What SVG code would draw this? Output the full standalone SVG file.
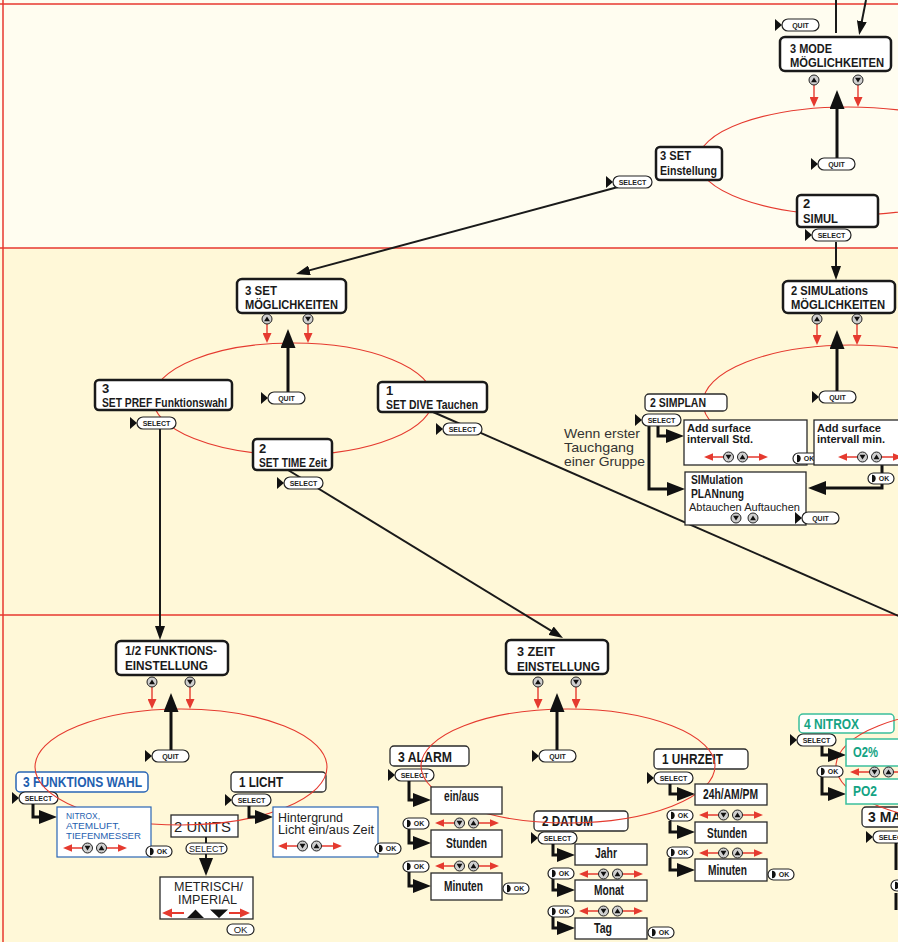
<svg xmlns="http://www.w3.org/2000/svg" width="898" height="942" viewBox="0 0 898 942">
<style>
.hb{font-family:"Liberation Sans Narrow","Liberation Sans",Arial,sans-serif;font-weight:700;font-size:13px;fill:#1a1a1a}
.lb{font-family:"Liberation Sans Narrow","Liberation Sans",Arial,sans-serif;font-weight:700;font-size:14px;fill:#1a1a1a}
.sb{font-family:"Liberation Sans",Arial,sans-serif;font-weight:700;font-size:10.5px;fill:#1a1a1a}
.rg{font-family:"Liberation Sans",Arial,sans-serif;font-size:12.5px;fill:#222}
.bt{font-family:"Liberation Sans",Arial,sans-serif;font-weight:700;font-size:7px;fill:#222;text-anchor:middle}
.bx3{fill:#fff;stroke:#1a1a1a;stroke-width:2.5}
.bx{fill:#fff;stroke:#2a2a2a;stroke-width:1.3}
.pl{fill:#fff;stroke:#222;stroke-width:1.2}
.cb{fill:#cfcfcf;stroke:#222;stroke-width:1}
.ell{fill:none;stroke:#e53a2f;stroke-width:1.1}
.rd{fill:none;stroke:#e53a2f;stroke-width:1.4}
.ln{fill:none;stroke:#1a1a1a;stroke-width:2}
.tk{fill:none;stroke:#111;stroke-width:3}
.blue{fill:#1f5fb0}
.teal{fill:#14a384}
</style>
<defs>
<marker id="mBig" markerUnits="userSpaceOnUse" markerWidth="18" markerHeight="14" refX="10" refY="7" orient="auto"><path d="M0,0L18,7L0,14Z" fill="#111"/></marker>
<marker id="mUp" markerUnits="userSpaceOnUse" markerWidth="19" markerHeight="15" refX="11" refY="7.5" orient="auto"><path d="M0,0L19,7.5L0,15Z" fill="#111"/></marker>
<marker id="mAh" markerUnits="userSpaceOnUse" markerWidth="14" markerHeight="10" refX="8" refY="5" orient="auto"><path d="M0,0L14,5L0,10Z" fill="#111"/></marker>
<marker id="mRed" markerUnits="userSpaceOnUse" markerWidth="10" markerHeight="9" refX="6" refY="4.5" orient="auto"><path d="M0,0L10,4.5L0,9Z" fill="#e53a2f"/></marker>
<g id="sel"><path d="M-7,0L0,6L-7,12Z" fill="#111"/><rect class="pl" width="39" height="12" rx="6"/><text class="bt" x="19.5" y="8.6">SELECT</text></g>
<g id="quit"><path d="M-7,0L0,6L-7,12Z" fill="#111"/><rect class="pl" width="37" height="12" rx="6"/><text class="bt" x="18.5" y="8.6">QUIT</text></g>
<g id="ok"><rect class="pl" width="26" height="11" rx="5.5"/><path d="M4,1.8V9.2A3.7,3.7 0 0 0 4,1.8Z" fill="#111"/><text class="bt" x="16" y="8.3">OK</text></g>
<g id="bup"><circle class="cb" r="5"/><path d="M-3,2.2L0,-2.6L3,2.2Z" fill="#111"/></g>
<g id="bdn"><circle class="cb" r="5"/><path d="M-3,-2.2L3,-2.2L0,2.6Z" fill="#111"/></g>
<g id="rr"><path class="rd" d="M8,0H19.5M43.5,0H56"/><path d="M0,0L9,-3.8V3.8Z M64,0L55,-3.8V3.8Z" fill="#e53a2f"/><use href="#bdn" x="24.5"/><use href="#bup" x="38.5"/></g>
</defs>

<g id="background">
<rect width="898" height="942" fill="#fff8d8"/>
<rect width="898" height="248" fill="#fffdf0"/>
<path d="M0,4H898M0,248H898M0,615H898M3,0V942" stroke="#e8392f" stroke-width="1.5" fill="none"/>
</g>

<g id="titles-band3">
<g id="n-funkwahl"><rect x="16" y="772" width="132" height="20" rx="4" fill="#fff" stroke="#2a66b5" stroke-width="1.5"/><text class="lb blue" x="23" y="787" textLength="119" lengthAdjust="spacingAndGlyphs">3 FUNKTIONS WAHL</text><use href="#sel" x="19" y="792"/></g>
<g id="n-licht"><rect class="bx" x="231" y="772" width="95" height="20" rx="4"/><text class="lb" x="239" y="787" textLength="44" lengthAdjust="spacingAndGlyphs">1 LICHT</text><use href="#sel" x="232" y="794"/></g>
<g id="n-units"><rect class="bx" x="171" y="815" width="67" height="22"/><text class="rg" style="font-size:15px" x="174" y="832" textLength="57" lengthAdjust="spacingAndGlyphs">2 UNITS</text><rect class="pl" x="186" y="843" width="41" height="11" rx="5.5"/><text class="rg" style="font-size:9px" x="206.5" y="851.8" text-anchor="middle">SELECT</text></g>
<g id="n-alarm"><rect class="bx" x="390" y="746" width="79" height="20" rx="4"/><text class="lb" x="398" y="762" textLength="54" lengthAdjust="spacingAndGlyphs">3 ALARM</text><use href="#sel" x="395" y="769"/></g>
<g id="n-datum"><rect class="bx" x="534" y="811" width="94" height="20" rx="4"/><text class="lb" x="542" y="826" textLength="51" lengthAdjust="spacingAndGlyphs">2 DATUM</text><use href="#sel" x="538" y="832"/></g>
<g id="n-uhrzeit"><rect class="bx" x="654" y="749" width="94" height="20" rx="4"/><text class="lb" x="662" y="764" textLength="61" lengthAdjust="spacingAndGlyphs">1 UHRZEIT</text><use href="#sel" x="654" y="772"/></g>
<g id="n-nitrox"><rect x="799" y="714" width="95" height="19" rx="4" fill="#fff" stroke="#3bbf9c" stroke-width="1.5"/><text class="lb teal" x="804" y="729" textLength="55" lengthAdjust="spacingAndGlyphs">4 NITROX</text><use href="#sel" x="797" y="734"/></g>
<g id="n-max"><rect class="bx" x="862" y="807" width="60" height="20" rx="4"/><text class="lb" x="868" y="822">3 MAX</text><use href="#sel" x="873" y="831"/><use href="#ok" x="891" y="880"/></g>
</g>

<g id="connectors">
<ellipse class="ell" cx="848" cy="161" rx="150" ry="54"/>
<ellipse class="ell" cx="293" cy="399" rx="140" ry="56"/>
<ellipse class="ell" cx="851" cy="403" rx="148" ry="58"/>
<ellipse class="ell" cx="181" cy="767" rx="146" ry="58"/>
<ellipse class="ell" cx="568" cy="766" rx="147" ry="57"/>
<ellipse class="ell" cx="982" cy="766" rx="146" ry="57"/>
<path class="ln" d="M836,0V33"/>
<path class="ln" d="M866,0L860.3,29.1" marker-end="url(#mAh)"/>
<path class="ln" d="M618,187L301.8,272.4" marker-end="url(#mAh)"/>
<path class="ln" d="M836,242V274" marker-end="url(#mAh)"/>
<path class="ln" d="M160,429V634" marker-end="url(#mAh)"/>
<path class="ln" d="M288,470L557.9,634.9" marker-end="url(#mAh)"/>
<path class="ln" d="M433,412L910,621"/>
<path class="tk" d="M837,158V98" marker-end="url(#mUp)"/>
<path class="tk" d="M288,392V337" marker-end="url(#mUp)"/>
<path class="tk" d="M837,391V338" marker-end="url(#mUp)"/>
<path class="tk" d="M171,751V701" marker-end="url(#mUp)"/>
<path class="tk" d="M557,751V701" marker-end="url(#mUp)"/>
<path class="rd" d="M814,85V103" marker-end="url(#mRed)"/>
<path class="rd" d="M858,85V103" marker-end="url(#mRed)"/>
<path class="rd" d="M267,324V339" marker-end="url(#mRed)"/>
<path class="rd" d="M308,324V339" marker-end="url(#mRed)"/>
<path class="rd" d="M817,324V341" marker-end="url(#mRed)"/>
<path class="rd" d="M857,324V341" marker-end="url(#mRed)"/>
<path class="rd" d="M152,687V705" marker-end="url(#mRed)"/>
<path class="rd" d="M190,687V705" marker-end="url(#mRed)"/>
<path class="rd" d="M538,687V705" marker-end="url(#mRed)"/>
<path class="rd" d="M576,687V705" marker-end="url(#mRed)"/>
<path class="tk" d="M658,426V436H676" marker-end="url(#mBig)"/>
<path class="tk" d="M649,426V489H677" marker-end="url(#mBig)"/>
<path class="tk" d="M882,465V488H816" marker-end="url(#mBig)"/>
<path class="tk" d="M33,804V817H49" marker-end="url(#mBig)"/>
<path class="tk" d="M249,806V817H265" marker-end="url(#mBig)"/>
<path class="ln" d="M206,837V843M206,854V868" marker-end="url(#mBig)"/>
<path class="tk" d="M409,781V800H423" marker-end="url(#mBig)"/>
<path class="tk" d="M409,829V843H423" marker-end="url(#mBig)"/>
<path class="tk" d="M409,872V886H423" marker-end="url(#mBig)"/>
<path class="tk" d="M553,844V855H567" marker-end="url(#mBig)"/>
<path class="tk" d="M553,879V890H567" marker-end="url(#mBig)"/>
<path class="tk" d="M553,917V928H567" marker-end="url(#mBig)"/>
<path class="tk" d="M670,784V794H687" marker-end="url(#mBig)"/>
<path class="tk" d="M670,821V832H687" marker-end="url(#mBig)"/>
<path class="tk" d="M670,858V870H687" marker-end="url(#mBig)"/>
<path class="tk" d="M822,746V755H838" marker-end="url(#mBig)"/>
<path class="tk" d="M822,777V794H838" marker-end="url(#mBig)"/>
<path class="tk" d="M896,843V870M896,893V910"/>
</g>

<g id="n-mode">
<rect class="bx3" x="780" y="37" width="111" height="34" rx="5"/>
<text class="hb" x="790" y="53" textLength="42" lengthAdjust="spacingAndGlyphs">3 MODE</text>
<text class="hb" x="790" y="67" textLength="94" lengthAdjust="spacingAndGlyphs">MÖGLICHKEITEN</text>
<use href="#bup" x="814" y="80"/><use href="#bdn" x="858" y="80"/>
<use href="#quit" x="782" y="19"/>
<use href="#quit" x="818" y="158"/>
</g>
<g id="n-set-einst">
<rect class="bx3" x="656" y="147" width="66" height="33" rx="4"/>
<text class="hb" x="660" y="160" textLength="31" lengthAdjust="spacingAndGlyphs">3 SET</text>
<text class="hb" x="660" y="175" textLength="57" lengthAdjust="spacingAndGlyphs">Einstellung</text>
<use href="#sel" x="613" y="176"/>
</g>
<g id="n-simul">
<rect class="bx3" x="797" y="195" width="81" height="32" rx="4"/>
<text class="hb" x="803" y="208">2</text>
<text class="hb" x="803" y="223" textLength="35" lengthAdjust="spacingAndGlyphs">SIMUL</text>
<use href="#sel" x="812" y="229"/>
</g>

<g id="n-set-mogl">
<rect class="bx3" x="237" y="279" width="109" height="34" rx="5"/>
<text class="hb" x="245" y="295" textLength="32" lengthAdjust="spacingAndGlyphs">3 SET</text>
<text class="hb" x="245" y="309" textLength="93" lengthAdjust="spacingAndGlyphs">MÖGLICHKEITEN</text>
<use href="#bup" x="267" y="319"/><use href="#bdn" x="308" y="319"/>
<use href="#quit" x="268" y="392"/>
</g>
<g id="n-set-pref">
<rect class="bx3" x="95" y="380" width="137" height="30" rx="4"/>
<text class="hb" x="102" y="393">3</text>
<text class="hb" x="102" y="407" textLength="125" lengthAdjust="spacingAndGlyphs">SET PREF Funktionswahl</text>
<use href="#sel" x="137" y="417"/>
</g>
<g id="n-set-dive">
<rect class="bx3" x="378" y="382" width="109" height="30" rx="4"/>
<text class="hb" x="386" y="395">1</text>
<text class="hb" x="386" y="409" textLength="92" lengthAdjust="spacingAndGlyphs">SET DIVE Tauchen</text>
<use href="#sel" x="443" y="423"/>
</g>
<g id="n-set-time">
<rect class="bx3" x="253" y="439" width="79" height="31" rx="4"/>
<text class="hb" x="259" y="452.5">2</text>
<text class="hb" x="259" y="467" textLength="68" lengthAdjust="spacingAndGlyphs">SET TIME Zeit</text>
<use href="#sel" x="284" y="477"/>
</g>
<g id="n-simul-mogl">
<rect class="bx3" x="783" y="281" width="112" height="32" rx="5"/>
<text class="hb" x="791" y="295" textLength="77" lengthAdjust="spacingAndGlyphs">2 SIMULations</text>
<text class="hb" x="791" y="309" textLength="94" lengthAdjust="spacingAndGlyphs">MÖGLICHKEITEN</text>
<use href="#bup" x="817" y="319"/><use href="#bdn" x="857" y="319"/>
<use href="#quit" x="819" y="391"/>
</g>
<g id="n-simplan">
<rect class="bx" x="645" y="394" width="82" height="17" rx="4"/>
<text class="hb" x="650" y="407" textLength="56" lengthAdjust="spacingAndGlyphs">2 SIMPLAN</text>
<use href="#sel" x="642" y="414"/>
</g>
<g id="n-add-std">
<rect class="bx" x="684" y="420" width="123" height="45"/>
<text class="sb" x="687" y="432" textLength="64" lengthAdjust="spacingAndGlyphs">Add surface</text>
<text class="sb" x="687" y="443" textLength="66" lengthAdjust="spacingAndGlyphs">intervall Std.</text>
<use href="#rr" x="704" y="457"/>
<use href="#ok" x="793" y="453"/>
</g>
<g id="n-add-min">
<rect class="bx" x="814" y="420" width="90" height="45"/>
<text class="sb" x="817" y="432" textLength="64" lengthAdjust="spacingAndGlyphs">Add surface</text>
<text class="sb" x="817" y="443" textLength="68" lengthAdjust="spacingAndGlyphs">intervall min.</text>
<use href="#rr" x="838" y="457"/>
<use href="#ok" x="868" y="473"/>
</g>
<g id="n-simplannung">
<rect class="bx" x="685" y="472" width="121" height="53"/>
<text class="hb" x="691" y="484" textLength="52" lengthAdjust="spacingAndGlyphs">SIMulation</text>
<text class="hb" x="691" y="498" textLength="53" lengthAdjust="spacingAndGlyphs">PLANnung</text>
<text class="rg" style="font-size:11px" x="689" y="511" textLength="111" lengthAdjust="spacingAndGlyphs">Abtauchen Auftauchen</text>
<use href="#bdn" x="736" y="518"/><use href="#bup" x="753" y="518"/>
<use href="#quit" x="802" y="512"/>
</g>
<g id="note-wenn">
<text class="rg" style="font-size:13.5px;fill:#333" x="564" y="438" textLength="76" lengthAdjust="spacingAndGlyphs">Wenn erster</text>
<text class="rg" style="font-size:13.5px;fill:#333" x="564" y="452" textLength="70" lengthAdjust="spacingAndGlyphs">Tauchgang</text>
<text class="rg" style="font-size:13.5px;fill:#333" x="564" y="466" textLength="81" lengthAdjust="spacingAndGlyphs">einer Gruppe</text>
</g>

<g id="n-funk">
<rect class="bx3" x="116" y="641" width="112" height="34" rx="5"/>
<text class="hb" x="125" y="655" textLength="92" lengthAdjust="spacingAndGlyphs">1/2 FUNKTIONS-</text>
<text class="hb" x="125" y="670" textLength="83" lengthAdjust="spacingAndGlyphs">EINSTELLUNG</text>
<use href="#bup" x="152" y="682"/><use href="#bdn" x="190" y="682"/>
<use href="#quit" x="152" y="750"/>
</g>
<g id="n-nitrox-list">
<rect x="57" y="807" width="94" height="50" fill="#fff" stroke="#2a66b5" stroke-width="1.2"/>
<text class="rg blue" style="font-size:9.5px" x="66" y="819" textLength="34" lengthAdjust="spacingAndGlyphs">NITROX,</text>
<text class="rg blue" style="font-size:9.5px" x="66" y="829" textLength="54" lengthAdjust="spacingAndGlyphs">ATEMLUFT,</text>
<text class="rg blue" style="font-size:9.5px" x="66" y="839" textLength="75" lengthAdjust="spacingAndGlyphs">TIEFENMESSER</text>
<use href="#rr" x="63" y="848"/>
<use href="#ok" x="146" y="846"/>
</g>
<g id="n-hintergrund">
<rect x="273" y="807" width="105" height="50" fill="#fff" stroke="#2a66b5" stroke-width="1.2"/>
<text class="rg" style="font-size:12px" x="278" y="821.5" textLength="65" lengthAdjust="spacingAndGlyphs">Hintergrund</text>
<text class="rg" style="font-size:12px" x="278" y="834" textLength="96" lengthAdjust="spacingAndGlyphs">Licht ein/aus Zeit</text>
<use href="#rr" x="278" y="846"/>
<use href="#ok" x="375" y="843"/>
</g>
<g id="n-metrisch">
<rect class="bx" x="160" y="877" width="93" height="42"/>
<text class="rg" style="font-size:12.5px" x="174" y="890.5" textLength="69" lengthAdjust="spacingAndGlyphs">METRISCH/</text>
<text class="rg" style="font-size:12.5px" x="178" y="903.5" textLength="59" lengthAdjust="spacingAndGlyphs">IMPERIAL</text>
<path class="rd" d="M170,913H184M241,913H229" style="stroke-width:2"/>
<path d="M162,913L172,908.5V917.5Z M250,913L240,908.5V917.5Z" fill="#e53a2f"/>
<path d="M187,918L195.5,909.5L204,918Z M210,909.5H228L219,918Z" fill="#111"/>
<rect class="pl" x="227" y="924" width="27" height="11" rx="5.5"/>
<text class="rg" style="font-size:9.5px" x="240.5" y="933" text-anchor="middle">OK</text>
</g>

<g id="n-zeit">
<rect class="bx3" x="506" y="640" width="102" height="34" rx="5"/>
<text class="hb" x="517" y="656" textLength="38" lengthAdjust="spacingAndGlyphs">3 ZEIT</text>
<text class="hb" x="517" y="671" textLength="83" lengthAdjust="spacingAndGlyphs">EINSTELLUNG</text>
<use href="#bup" x="538" y="682"/><use href="#bdn" x="576" y="682"/>
<use href="#quit" x="539" y="750"/>
</g>
<g id="n-alarm-einaus"><rect class="bx" x="431" y="787" width="71" height="27"/><text class="lb" x="444" y="801" textLength="35" lengthAdjust="spacingAndGlyphs">ein/aus</text></g>
<g id="n-alarm-stunden"><use href="#ok" x="403" y="818"/><use href="#rr" x="435" y="823"/><rect class="bx" x="431" y="830" width="71" height="27"/><text class="lb" x="446" y="848" textLength="41" lengthAdjust="spacingAndGlyphs">Stunden</text></g>
<g id="n-alarm-minuten"><use href="#ok" x="403" y="861"/><use href="#rr" x="435" y="866"/><rect class="bx" x="431" y="873" width="71" height="27"/><text class="lb" x="444" y="891" textLength="39" lengthAdjust="spacingAndGlyphs">Minuten</text><use href="#ok" x="503" y="883"/></g>
<g id="n-datum-jahr"><rect class="bx" x="575" y="844" width="72" height="21"/><text class="lb" x="595" y="858" textLength="22" lengthAdjust="spacingAndGlyphs">Jahr</text></g>
<g id="n-datum-monat"><use href="#ok" x="548" y="868"/><use href="#rr" x="579" y="874"/><rect class="bx" x="575" y="880" width="72" height="21"/><text class="lb" x="594" y="895" textLength="30" lengthAdjust="spacingAndGlyphs">Monat</text></g>
<g id="n-datum-tag"><use href="#ok" x="548" y="906"/><use href="#rr" x="579" y="911"/><rect class="bx" x="575" y="918" width="72" height="21"/><text class="lb" x="594" y="933" textLength="18" lengthAdjust="spacingAndGlyphs">Tag</text><use href="#ok" x="648" y="927"/></g>
<g id="n-uhr-24h"><rect class="bx" x="695" y="784" width="72" height="21"/><text class="lb" x="703" y="799" textLength="55" lengthAdjust="spacingAndGlyphs">24h/AM/PM</text></g>
<g id="n-uhr-stunden"><use href="#ok" x="667" y="810"/><use href="#rr" x="699" y="815"/><rect class="bx" x="695" y="822" width="72" height="21"/><text class="lb" x="707" y="838" textLength="40" lengthAdjust="spacingAndGlyphs">Stunden</text></g>
<g id="n-uhr-minuten"><use href="#ok" x="667" y="847"/><use href="#rr" x="699" y="853"/><rect class="bx" x="695" y="859" width="72" height="22"/><text class="lb" x="708" y="875" textLength="39" lengthAdjust="spacingAndGlyphs">Minuten</text><use href="#ok" x="768" y="869"/></g>
<g id="n-o2"><rect x="846" y="739" width="60" height="27" fill="#fff" stroke="#3bbf9c" stroke-width="1.5"/><text class="lb teal" x="853" y="757" textLength="25" lengthAdjust="spacingAndGlyphs">O2%</text></g>
<g id="n-po2"><use href="#ok" x="817" y="766"/><use href="#rr" x="850" y="772"/><rect x="846" y="779" width="60" height="25" fill="#fff" stroke="#3bbf9c" stroke-width="1.5"/><text class="lb teal" x="853" y="796" textLength="24" lengthAdjust="spacingAndGlyphs">PO2</text></g>
</svg>
